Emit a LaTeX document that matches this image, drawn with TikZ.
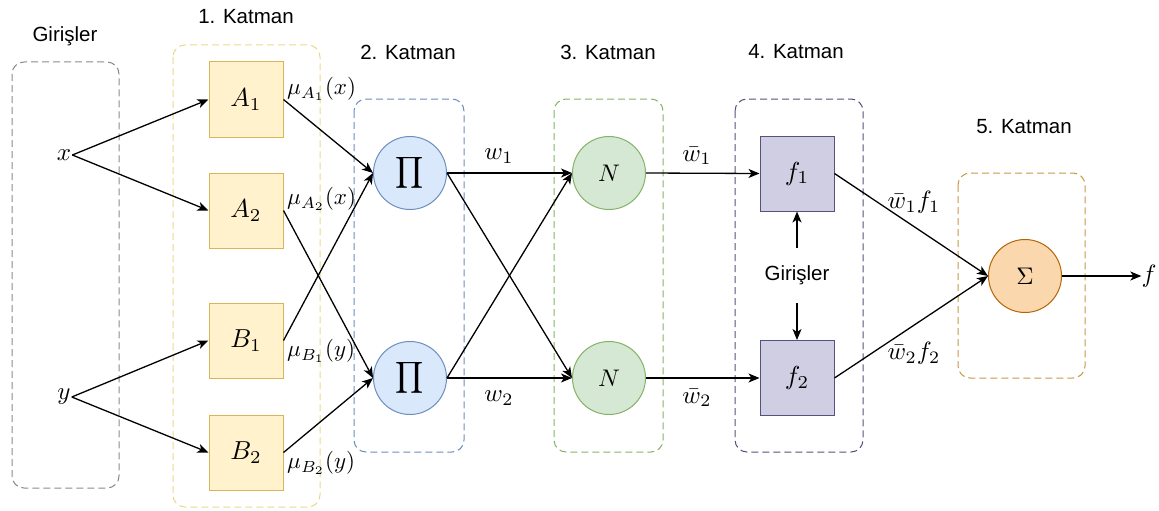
\documentclass[tikz,border=0pt]{standalone}
\usepackage{fontspec}
\usepackage{graphicx}
\newfontfamily\lsans{Liberation Sans}
\usetikzlibrary{arrows.meta}
\definecolor{yfill}{HTML}{FFF2CC}\definecolor{ydraw}{HTML}{D6B656}
\definecolor{bfill}{HTML}{DAE8FC}\definecolor{bdraw}{HTML}{6C8EBF}
\definecolor{gfill}{HTML}{D5E8D4}\definecolor{gdraw}{HTML}{82B366}
\definecolor{pfill}{HTML}{D0CEE2}\definecolor{pdraw}{HTML}{56517E}
\definecolor{ofill}{HTML}{FAD7AC}\definecolor{odraw}{HTML}{B46504}
\definecolor{frgray}{HTML}{8A8A8A}\definecolor{fryel}{HTML}{E8DA8C}
\definecolor{frorange}{HTML}{C89648}
\newcommand{\mysc}[2]{\scalebox{#1}{$#2$}}
\begin{document}
\begin{tikzpicture}[x=1pt,y=-1pt,
  frame/.style={dashed,dash pattern=on 7pt off 4pt,line width=1pt,rounded corners=12pt},
  sq/.style={draw,line width=1pt,minimum width=74pt,minimum height=75pt,inner sep=0pt},
  circ/.style={circle,draw,line width=1pt,minimum size=73pt,inner sep=0pt},
  lay/.style={font=\lsans\fontsize{20.5}{24}\selectfont},
  mth/.style={inner sep=1pt},
  mu/.style={anchor=west,inner sep=0pt},
  arr/.style={line width=1.3pt,-{Stealth[length=11pt,width=9pt,inset=3pt]}}]
\useasboundingbox (0,0) rectangle (1159,511);
% frames
\draw[frame,frgray] (12,62) rectangle (119,488);
\draw[frame,fryel] (173,45) rectangle (320,507);
\draw[frame,bdraw] (354,99) rectangle (464,452);
\draw[frame,gdraw] (554,99) rectangle (663,452);
\draw[frame,pdraw] (735,99) rectangle (863,452);
\draw[frame,frorange] (958,173) rectangle (1085,378);
% layer titles
\node[lay] (t0) at (65,36) {Girişler};
\node[lay] (t1) at (246,17) {1. Katman};
\node[lay] (t2) at (408,52) {2. Katman};
\node[lay] (t3) at (608,52) {3. Katman};
\node[lay] (t4) at (796,52) {4. Katman};
\node[lay] (t5) at (1024,127) {5. Katman};
% inputs
\node[mth] (x) at (64,155) {\mysc{2.5}{x}};
\node[mth] (y) at (64,397) {\mysc{2.5}{y}};
% layer 1
\node[sq,fill=yfill,draw=ydraw] (A1) at (246,99.5) {\mysc{2.6}{A_1}};
\node[sq,fill=yfill,draw=ydraw] (A2) at (246,210.5) {\mysc{2.6}{A_2}};
\node[sq,fill=yfill,draw=ydraw] (B1) at (246,340.5) {\mysc{2.6}{B_1}};
\node[sq,fill=yfill,draw=ydraw] (B2) at (246,452.5) {\mysc{2.6}{B_2}};
\node[mu] (m1) at (287,89) {\mysc{2.3}{\mu_{A_1}(x)}};
\node[mu] (m2) at (287,199) {\mysc{2.3}{\mu_{A_2}(x)}};
\node[mu] (m3) at (287,351) {\mysc{2.3}{\mu_{B_1}(y)}};
\node[mu] (m4) at (287,463) {\mysc{2.3}{\mu_{B_2}(y)}};
% layer 2
\node[circ,fill=bfill,draw=bdraw] (P1) at (410,173) {\mysc{2.2}{\displaystyle\prod}};
\node[circ,fill=bfill,draw=bdraw] (P2) at (410,378) {\mysc{2.2}{\displaystyle\prod}};
% layer 3
\node[circ,fill=gfill,draw=gdraw] (N1) at (609,173) {\mysc{2.4}{N}};
\node[circ,fill=gfill,draw=gdraw] (N2) at (609,378) {\mysc{2.4}{N}};
% layer 4
\node[sq,fill=pfill,draw=pdraw] (F1) at (797,173.5) {\mysc{2.6}{f_1}};
\node[sq,fill=pfill,draw=pdraw] (F2) at (797,378) {\mysc{2.6}{f_2}};
\node[lay] (gi) at (797,275) {Girişler};
\coordinate (gu) at (797,248);
\coordinate (gd) at (797,303);
% layer 5
\node[circ,fill=ofill,draw=odraw] (S) at (1025,276) {\mysc{2.4}{\Sigma}};
\node[mth,inner sep=0pt] (f) at (1149,276) {\mysc{2.5}{f}};
% edge labels
\node[mth] (lw1) at (499,156) {\mysc{2.5}{w_1}};
\node[mth] (lw2) at (499,398) {\mysc{2.5}{w_2}};
\node[mth] (lv1) at (697,156) {\mysc{2.5}{\bar{w}_1}};
\node[mth] (lv2) at (697,398) {\mysc{2.5}{\bar{w}_2}};
\node[mth] (lf1) at (914,202) {\mysc{2.5}{\bar{w}_1 f_1}};
\node[mth] (lf2) at (914,353) {\mysc{2.5}{\bar{w}_2 f_2}};
% connectors
\draw[arr] (x.east) -- (A1.west);
\draw[arr] (x.east) -- (A2.west);
\draw[arr] (y.east) -- (B1.west);
\draw[arr] (y.east) -- (B2.west);
\draw[arr] (A1.east) -- (P1.west);
\draw[arr] (B1.east) -- (P1.west);
\draw[arr] (A2.east) -- (P2.west);
\draw[arr] (B2.east) -- (P2.west);
\draw[arr] (P1.east) -- (N1.west);
\draw[arr] (P1.east) -- (N2.west);
\draw[arr] (P2.east) -- (N1.west);
\draw[arr] (P2.east) -- (N2.west);
\draw[arr] (N1.east) -- (F1.west);
\draw[arr] (N2.east) -- (F2.west);
\draw[arr] (gu) -- (F1.south);
\draw[arr] (gd) -- (F2.north);
\draw[arr] (F1.east) -- (S.west);
\draw[arr] (F2.east) -- (S.west);
\draw[arr] (S.east) -- (f.west);
\end{tikzpicture}
\end{document}
